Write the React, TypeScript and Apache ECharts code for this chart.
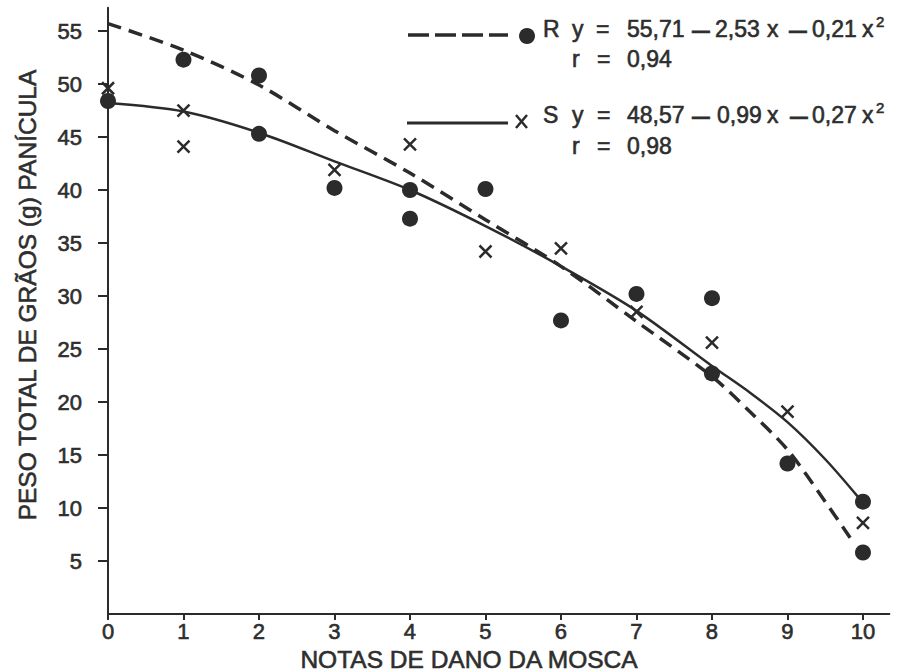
import React, { useEffect, useRef } from "react";
import * as echarts from "echarts";

// ---- data ----
const xTickValues = [0, 1, 2, 3, 4, 5, 6, 7, 8, 9, 10];
const yTickValues = [5, 10, 15, 20, 25, 30, 35, 40, 45, 50, 55];

// observed points (filled circles)
const circleX = [0, 1, 2, 2, 3, 4, 4, 5, 6, 7, 8, 8, 9, 10, 10];
const circleY = [48.4, 52.3, 50.8, 45.3, 40.2, 40.0, 37.3, 40.1, 27.7, 30.2, 29.8, 22.7, 14.2, 10.6, 5.8];

// observed points (crosses)
const crossX = [0, 1, 1, 3, 4, 5, 6, 7, 8, 9, 10];
const crossY = [49.6, 47.5, 44.1, 41.9, 44.3, 34.2, 34.5, 28.5, 25.6, 19.1, 8.6];

// fitted curve R (dashed)
const curveRX = [0, 1, 2, 3, 4, 5, 6, 7, 8, 8.5, 9, 9.5, 9.83];
const curveRY = [55.7, 53.2, 49.9, 45.6, 41.6, 37.2, 32.8, 27.6, 22.4, 19.1, 15.5, 10.6, 7.2];

// fitted curve S (solid)
const curveSX = [0, 1, 2, 3, 4, 5, 6, 7, 8, 8.5, 9, 9.5, 9.94];
const curveSY = [48.2, 47.4, 45.4, 42.7, 40.0, 36.6, 32.8, 28.6, 23.4, 20.9, 18.1, 14.6, 11.0];

const xTitle = "NOTAS DE DANO DA MOSCA";
const yTitle = "PESO TOTAL DE GRÃOS (g) PANÍCULA";

const INK = "#2b2b2b";
const TEXT = "#2e2e2e";
const FONT = "'Liberation Sans', Arial, Helvetica, sans-serif";

const zip = (xs: number[], ys: number[]) => xs.map((x, i) => [x, ys[i]]);

function txt(text: string, x: number, y: number, size = 23, extra: any = {}) {
  return {
    type: "text",
    x,
    y,
    silent: true,
    style: {
      text,
      fontSize: size,
      fontFamily: FONT,
      fill: TEXT,
      stroke: TEXT,
      lineWidth: 0.6,
      align: "left",
      verticalAlign: "middle",
      ...extra,
    },
  };
}

export default function App() {
  const ref = useRef<HTMLDivElement>(null);

  useEffect(() => {
    if (!ref.current) return;
    const chart = echarts.init(ref.current, undefined, { renderer: "svg" });

    const dash = (x: number, y: number) => txt("–", x, y, 32, { align: "center" });

    const legendGraphics: any[] = [
      // R legend
      {
        type: "line",
        silent: true,
        shape: { x1: 408, y1: 35, x2: 508, y2: 35 },
        style: { stroke: INK, lineWidth: 3.5, lineDash: [21, 6] },
      },
      { type: "circle", silent: true, shape: { cx: 527, cy: 36, r: 8 }, style: { fill: INK } },
      txt("R", 543, 28.5),
      txt("y", 572, 28.5),
      txt("=", 596, 28.5),
      txt("55,71", 627, 28.5),
      dash(701, 28.5),
      txt("2,53", 715, 28.5),
      txt("x", 767, 28.5),
      dash(798, 28.5),
      txt("0,21", 812, 28.5),
      txt("x", 862, 28.5),
      txt("2", 876, 21, 15),
      txt("r", 572, 59),
      txt("=", 597, 59),
      txt("0,94", 627, 59),
      // S legend
      {
        type: "line",
        silent: true,
        shape: { x1: 407, y1: 123, x2: 508, y2: 123 },
        style: { stroke: INK, lineWidth: 3 },
      },
      {
        type: "line",
        silent: true,
        shape: { x1: 516, y1: 115, x2: 527, y2: 128 },
        style: { stroke: INK, lineWidth: 2.5 },
      },
      {
        type: "line",
        silent: true,
        shape: { x1: 527, y1: 115, x2: 516, y2: 128 },
        style: { stroke: INK, lineWidth: 2.5 },
      },
      txt("S", 543, 114.5),
      txt("y", 572, 114.5),
      txt("=", 597, 114.5),
      txt("48,57", 627, 114.5),
      dash(701, 114.5),
      txt("0,99", 717, 114.5),
      txt("x", 767, 114.5),
      dash(799, 114.5),
      txt("0,27", 812, 114.5),
      txt("x", 862, 114.5),
      txt("2", 876, 107, 15),
      txt("r", 572, 146),
      txt("=", 597, 146),
      txt("0,98", 627, 146),
      // axis titles
      txt(xTitle, 469, 659, 24.5, { align: "center" }),
      {
        type: "text",
        x: 27,
        y: 295,
        rotation: Math.PI / 2,
        silent: true,
        style: {
          text: yTitle,
          fontSize: 24.5,
          fontFamily: FONT,
          fill: TEXT,
          stroke: TEXT,
          lineWidth: 0.6,
          align: "center",
          verticalAlign: "middle",
        },
      },
    ];

    const labelStyle = {
      fontSize: 22,
      fontFamily: FONT,
      color: TEXT,
      textBorderColor: TEXT,
      textBorderWidth: 0.6,
    };

    chart.setOption({
      animation: false,
      backgroundColor: "#ffffff",
      grid: {
        left: 108,
        right: 15.6,
        top: 7.7,
        bottom: 58,
        containLabel: false,
        outerBoundsMode: "none",
      },
      xAxis: {
        type: "value",
        min: 0,
        max: 10.35,
        splitLine: { show: false },
        axisLine: { onZero: false, lineStyle: { color: INK, width: 2 } },
        axisTick: {
          show: true,
          length: 6,
          customValues: xTickValues,
          lineStyle: { color: INK, width: 2 },
        },
        axisLabel: {
          customValues: xTickValues,
          margin: 6,
          ...labelStyle,
        },
      },
      yAxis: {
        type: "value",
        min: 0,
        max: 57.2,
        splitLine: { show: false },
        axisLine: { show: true, onZero: false, lineStyle: { color: INK, width: 2 } },
        axisTick: {
          show: true,
          length: 10,
          customValues: yTickValues,
          lineStyle: { color: INK, width: 2 },
        },
        axisLabel: {
          customValues: yTickValues,
          margin: 26,
          ...labelStyle,
        },
      },
      series: [
        {
          name: "R",
          type: "line",
          data: zip(curveRX, curveRY),
          smooth: 0.3,
          symbol: "none",
          lineStyle: { color: INK, width: 3.5, type: [14, 8] },
          z: 2,
        },
        {
          name: "S",
          type: "line",
          data: zip(curveSX, curveSY),
          smooth: 0.3,
          symbol: "none",
          lineStyle: { color: INK, width: 2.5 },
          z: 2,
        },
        {
          name: "R pontos",
          type: "scatter",
          data: zip(circleX, circleY),
          symbol: "circle",
          symbolSize: 16,
          itemStyle: { color: INK, opacity: 1 },
          z: 3,
        },
        {
          name: "S pontos",
          type: "scatter",
          data: zip(crossX, crossY),
          symbol: "path://M0,0L10,10M10,0L0,10",
          symbolSize: 12,
          itemStyle: { color: "none", borderColor: INK, borderWidth: 2.5, opacity: 1 },
          z: 3,
        },
      ],
      graphic: legendGraphics,
    });

    return () => chart.dispose();
  }, []);

  return (
    <div
      ref={ref}
      style={{ position: "fixed", left: 0, top: 0, width: 905, height: 672, background: "#fff" }}
    />
  );
}
